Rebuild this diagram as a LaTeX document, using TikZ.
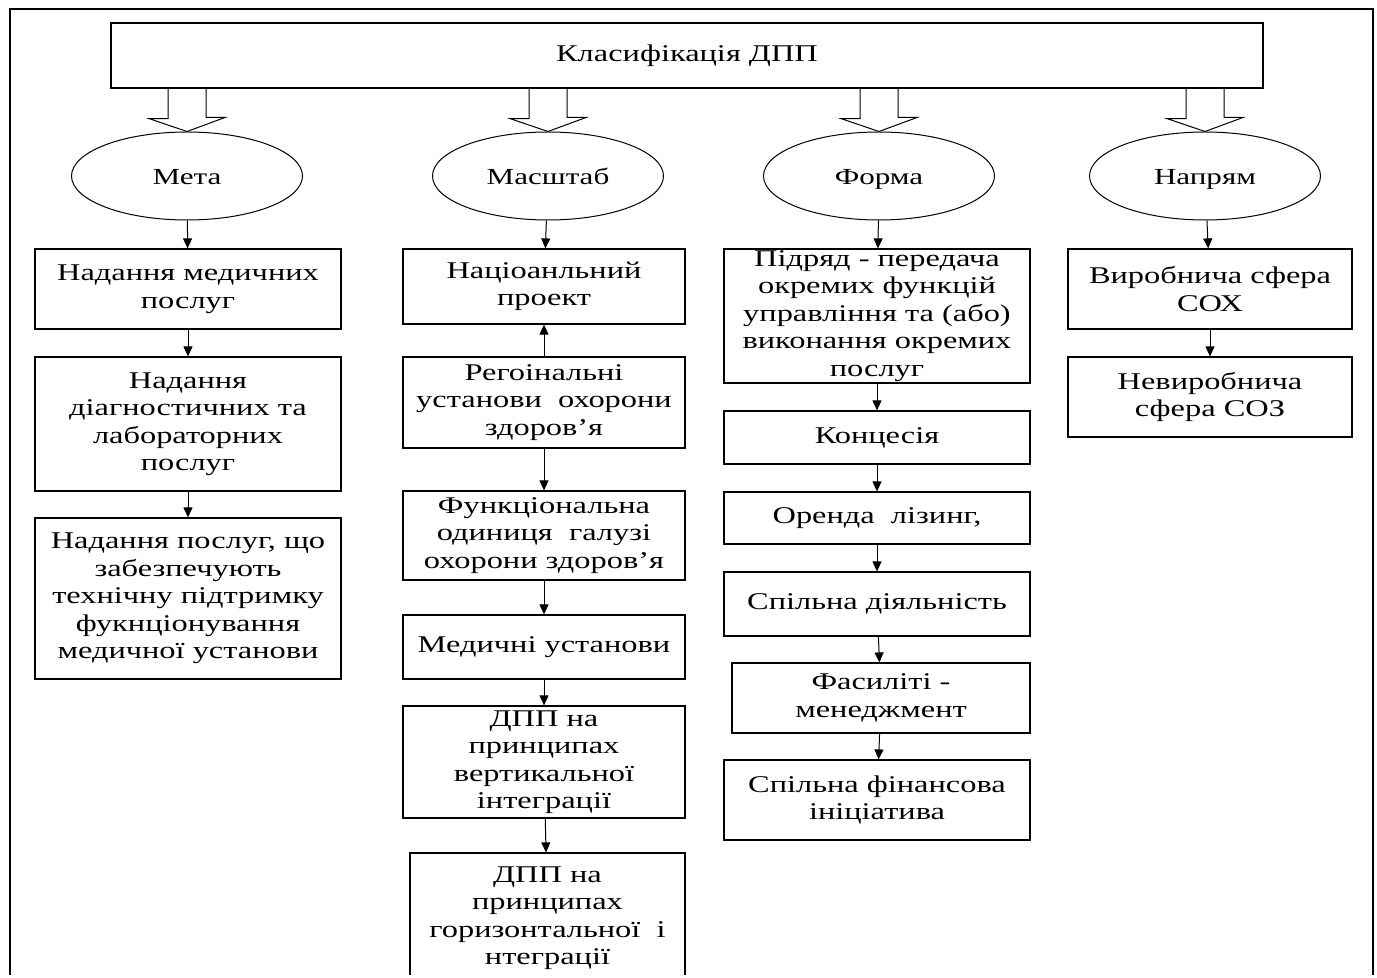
\documentclass[tikz,border=0pt]{standalone}
\usepackage{fontspec}
\setmainfont{Liberation Serif}[FakeStretch=1.35]
\usetikzlibrary{positioning,shapes.geometric,arrows.meta}

\begin{document}
\begin{tikzpicture}[x=0.5pt,y=-0.5pt,
    blk/.style={draw,line width=0.6pt,inner sep=0pt,align=center,font=\fontsize{12}{13.75}\selectfont},
    oval/.style={draw,ellipse,line width=0.5pt,minimum width=115.5pt,minimum height=44pt,inner sep=0pt,
                 text height=10pt,text depth=1.5pt,font=\fontsize{11.5}{13}\selectfont},
    arr/.style={-{Triangle[length=5pt,width=4.5pt]},line width=0.5pt}]
    \useasboundingbox (0,0) rectangle (1377,978);
    \clip (0,0) rectangle (1377,974);
    \draw[line width=1.3pt] (10,990) -- (10,9) -- (1373,9) -- (1373,990);
    \node[blk,minimum width=576pt,minimum height=32.5pt] (title) at (687,55.5) {Класифікація ДПП};
    \node[oval] (meta) at (187,176) {Мета};
    \node[oval] (masht) at (548,176) {Масштаб};
    \node[oval] (forma) at (879,176) {Форма};
    \node[oval] (napr) at (1205,176) {Напрям};
    \foreach \e in {meta,masht,forma,napr}
      \draw[line width=0.5pt] (\e.north |- title.south) ++(-19,0) -- ++(0,30) -- ++(-19,0) -- (\e.north) -- ++(38,-14) -- ++(-19,0) -- ++(0,-30);
    % Мета
    \node[blk,minimum width=153pt,minimum height=40pt] (m1) at (188,289) {Надання медичних\\послуг};
    \node[blk,minimum width=153pt,minimum height=67pt] (m2) at (188,424) {Надання\\діагностичних та\\лабораторних\\послуг};
    \node[blk,minimum width=153pt,minimum height=80.5pt] (m3) at (188,598.5) {Надання послуг, що\\забезпечують\\технічну підтримку\\фукнціонування\\медичної установи};
    % Масштаб
    \node[blk,minimum width=141pt,minimum height=37.5pt] (s1) at (544,286.5) {Націоанльний\\проект};
    \node[blk,minimum width=141pt,minimum height=45.5pt] (s2) at (544,402.5) {Регоінальні\\установи\ \ охорони\\здоров’я};
    \node[blk,minimum width=141pt,minimum height=44.5pt] (s3) at (544,535.5) {Функціональна\\одиниця\ \ галузі\\охорони здоров’я};
    \node[blk,minimum width=141pt,minimum height=32pt] (s4) at (544,647) {Медичні установи};
    \node[blk,minimum width=141pt,minimum height=56pt] (s5) at (544,762) {ДПП на\\принципах\\вертикальної\\інтеграції};
    \node[blk,minimum width=137.5pt,minimum height=65pt] (s6) at (547.5,918) {ДПП на\\принципах\\горизонтальної\ \ і\\нтеграції};
    % Форма
    \node[blk,minimum width=153pt,minimum height=67pt] (f1) at (877,316) {Підряд - передача\\окремих функцій\\управління та (або)\\виконання окремих\\послуг};
    \node[blk,minimum width=153pt,minimum height=26.5pt] (f2) at (877,437.5) {Концесія};
    \node[blk,minimum width=153pt,minimum height=26pt] (f3) at (877,518) {Оренда\ \ лізинг,};
    \node[blk,minimum width=153pt,minimum height=32pt] (f4) at (877,604) {Спільна діяльність};
    \node[blk,minimum width=149pt,minimum height=35pt] (f5) at (881,698) {Фасиліті -\\менеджмент};
    \node[blk,minimum width=153pt,minimum height=40pt] (f6) at (877,800) {Спільна фінансова\\ініціатива};
    % Напрям
    \node[blk,minimum width=142pt,minimum height=40pt] (n1) at (1210,289) {Виробнича сфера\\СОХ};
    \node[blk,minimum width=142pt,minimum height=40pt] (n2) at (1210,397) {Невиробнича\\сфера СОЗ};
    \foreach \a/\b in {meta/m1,m1/m2,m2/m3,masht/s1,s2/s1,s2/s3,s3/s4,s4/s5,s5/s6,
                       forma/f1,f1/f2,f2/f3,f3/f4,f4/f5,f5/f6,napr/n1,n1/n2}
      \draw[arr] (\a) -- (\b);
\end{tikzpicture}
\end{document}
